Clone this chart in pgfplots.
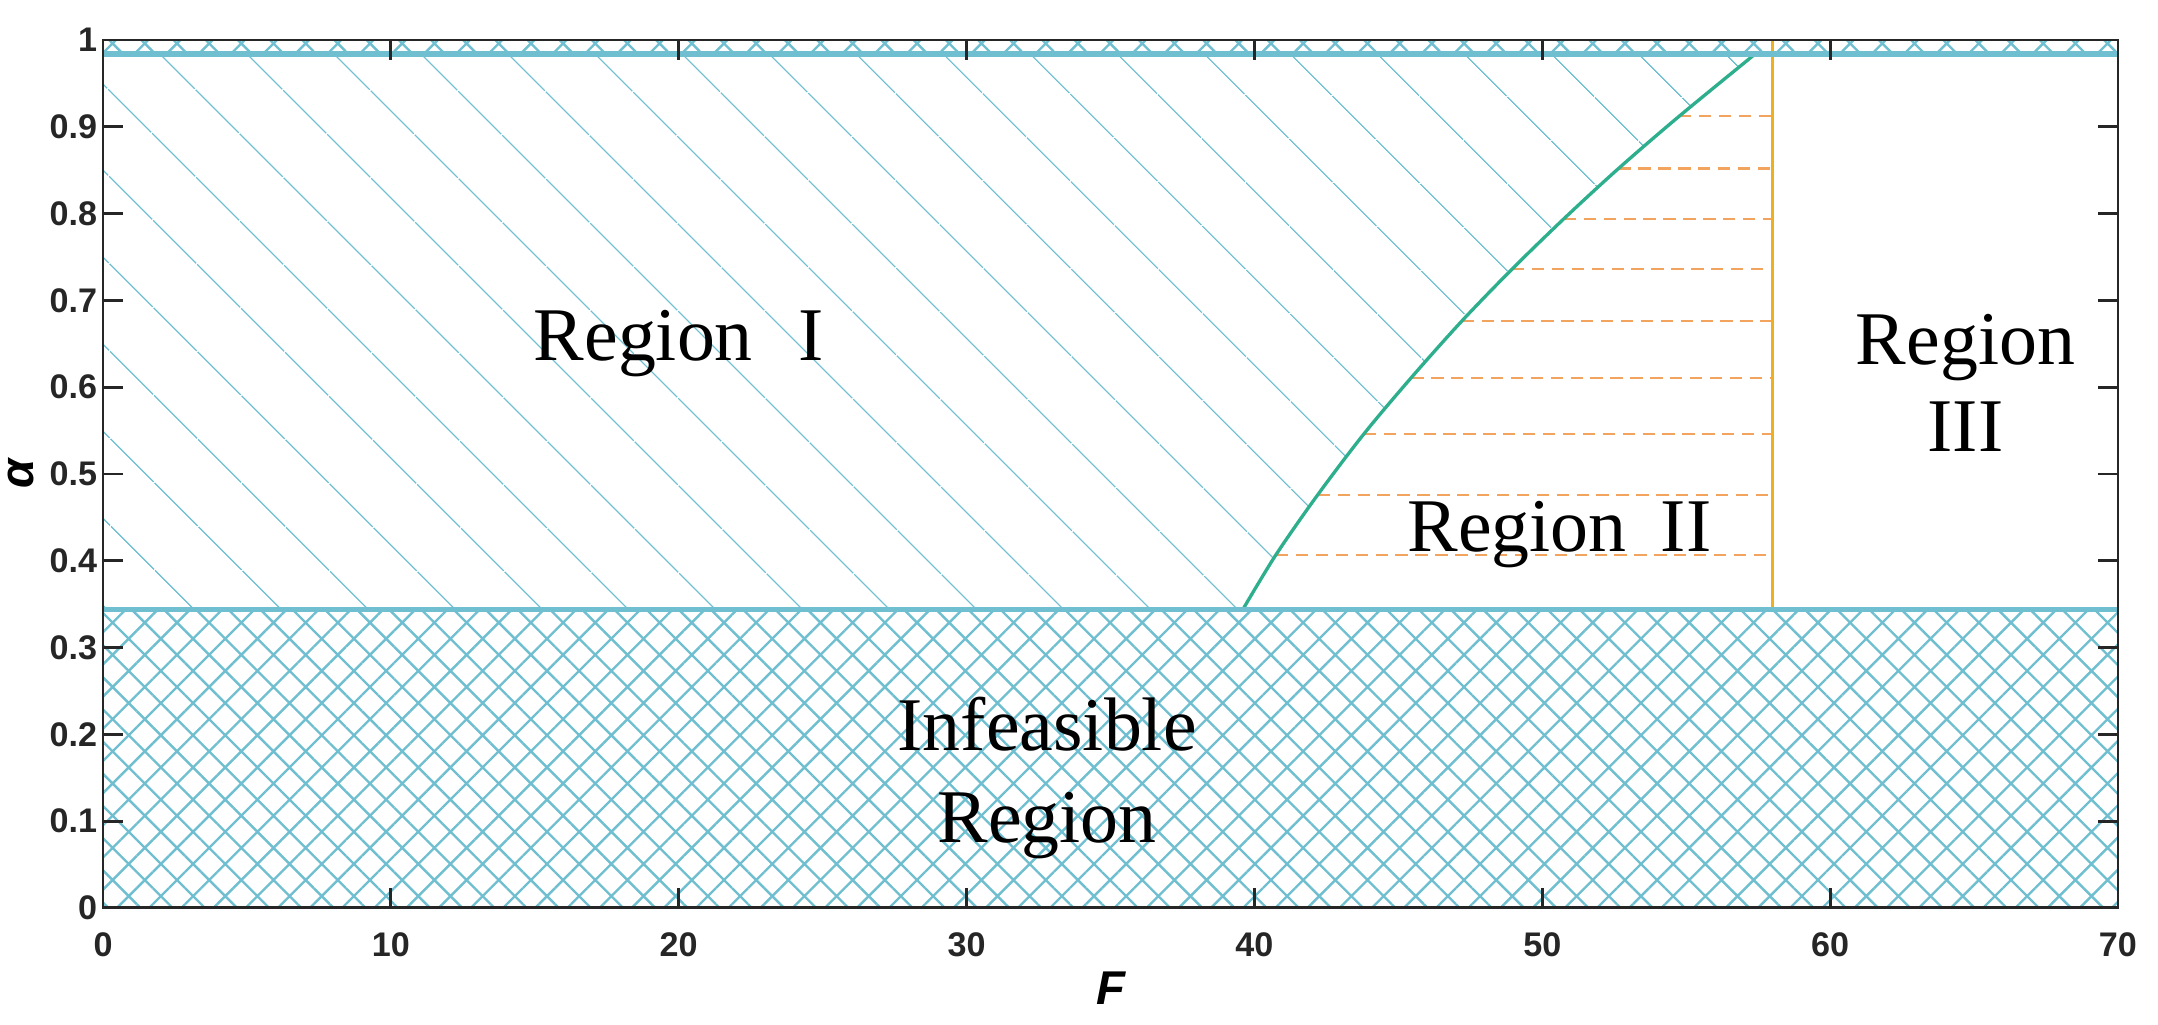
\documentclass[border=0pt]{standalone}
\usepackage{fontspec}
\setmainfont{Liberation Serif}
\newfontfamily\arialfont{Liberation Sans}
\usepackage{pgfplots}
\pgfplotsset{compat=1.18}
\usetikzlibrary{patterns.meta}

\definecolor{hatchblue}{HTML}{6FBFD1}
\definecolor{curvegreen}{HTML}{2DAE8C}
\definecolor{vorange}{HTML}{EDB120}
\definecolor{dorange}{HTML}{F2A35E}
\definecolor{axgray}{HTML}{262626}

% boundary of region I / II (F, alpha)
\pgfplotstableread{
F alpha
39.6 0.344
40.75 0.407
42.2 0.476
43.8 0.546
45.45 0.611
47.2 0.676
48.95 0.736
50.75 0.794
52.65 0.852
54.75 0.912
57.4 0.984
}\curvedata

\begin{document}
\begin{tikzpicture}
% page = axis box plus margins (axis sits with its lower left corner at the origin)
\useasboundingbox (-0.764cm,-0.867cm) rectangle (15.237cm,6.732cm);
\begin{axis}[
  at={(0,0)}, anchor=south west,
  scale only axis,
  width=14.94cm, height=6.435cm,
  xmin=0, xmax=70, ymin=0, ymax=1,
  xtick={0,10,20,30,40,50,60,70},
  ytick={0,0.1,0.2,0.3,0.4,0.5,0.6,0.7,0.8,0.9,1},
  tick align=inside,
  major tick length=0.148cm,
  axis line style={axgray, line width=0.6pt},
  every tick/.style={axgray, line width=0.6pt},
  /pgf/number format/assume math mode=true,
  tick label style={font=\arialfont\bfseries\fontsize{7.2}{8}\selectfont, text=axgray},
  yticklabel style={xshift=0.08cm},
  xticklabel style={yshift=-0.06cm},
  xlabel={\arialfont\bfseries\itshape F},
  ylabel={\arialfont\bfseries\itshape α},
  label style={font=\fontsize{8}{9}\selectfont, text=axgray, inner sep=0pt},
  every axis x label/.style={at={([yshift=-0.593cm]axis description cs:0.5,0)}, anchor=center},
  every axis y label/.style={at={([xshift=-0.61cm]axis description cs:0,0.5)}, anchor=center, rotate=90},
  axis on top,
]
% infeasible region and top band
\addplot[draw=none, pattern={Hatch[angle=45,distance=4.8pt,line width=0.5pt]}, pattern color=hatchblue]
  coordinates {(0,0) (70,0) (70,0.344) (0,0.344)} --cycle;
\addplot[draw=none, pattern={Hatch[angle=45,distance=4.8pt,line width=0.5pt]}, pattern color=hatchblue]
  coordinates {(0,0.984) (70,0.984) (70,1) (0,1)} --cycle;

% region I hatch
\addplot[draw=none, pattern={Lines[angle=-45,distance=13pt,line width=0.3pt]}, pattern color=hatchblue]
  coordinates {(0,0.344) (0,0.984) (57.4,0.984) (54.75,0.912) (52.65,0.852) (50.75,0.794) (48.95,0.736)
  (47.2,0.676) (45.45,0.611) (43.8,0.546) (42.2,0.476) (40.75,0.407) (39.6,0.344)} --cycle;

% region II dashed lines
\pgfplotsset{dashline/.style={dorange, line width=0.45pt, dash pattern=on 2.6pt off 1.6pt}}
\addplot[dashline] coordinates {(40.75,0.407) (58,0.407)};
\addplot[dashline] coordinates {(42.2,0.476) (58,0.476)};
\addplot[dashline] coordinates {(43.8,0.546) (58,0.546)};
\addplot[dashline] coordinates {(45.45,0.611) (58,0.611)};
\addplot[dashline] coordinates {(47.2,0.676) (58,0.676)};
\addplot[dashline] coordinates {(48.95,0.736) (58,0.736)};
\addplot[dashline] coordinates {(50.75,0.794) (58,0.794)};
\addplot[dashline] coordinates {(52.65,0.852) (58,0.852)};
\addplot[dashline] coordinates {(54.75,0.912) (58,0.912)};

% boundaries
\addplot[vorange, line width=0.7pt] coordinates {(58,0.344) (58,1)};
\addplot[curvegreen, line width=0.7pt, smooth] table[x=F, y=alpha] {\curvedata};
\addplot[hatchblue, line width=1.1pt] coordinates {(0,0.344) (70,0.344)};
\addplot[hatchblue, line width=1.1pt] coordinates {(0,0.984) (70,0.984)};

% labels
\node[font=\fontsize{16}{19}\selectfont] at (axis cs:20,0.65) {Region\hspace{0.6em}I};
\node[font=\fontsize{16}{19}\selectfont] at (axis cs:50.6,0.43) {Region\hspace{0.45em}II};
\node[font=\fontsize{16}{18.5}\selectfont, align=center] at (axis cs:64.7,0.605) {Region\\III};
\node[font=\fontsize{16}{19.5}\selectfont, align=center] at (axis cs:32.8,0.15) {Infeasible\\Region};
\end{axis}
\end{tikzpicture}
\end{document}
